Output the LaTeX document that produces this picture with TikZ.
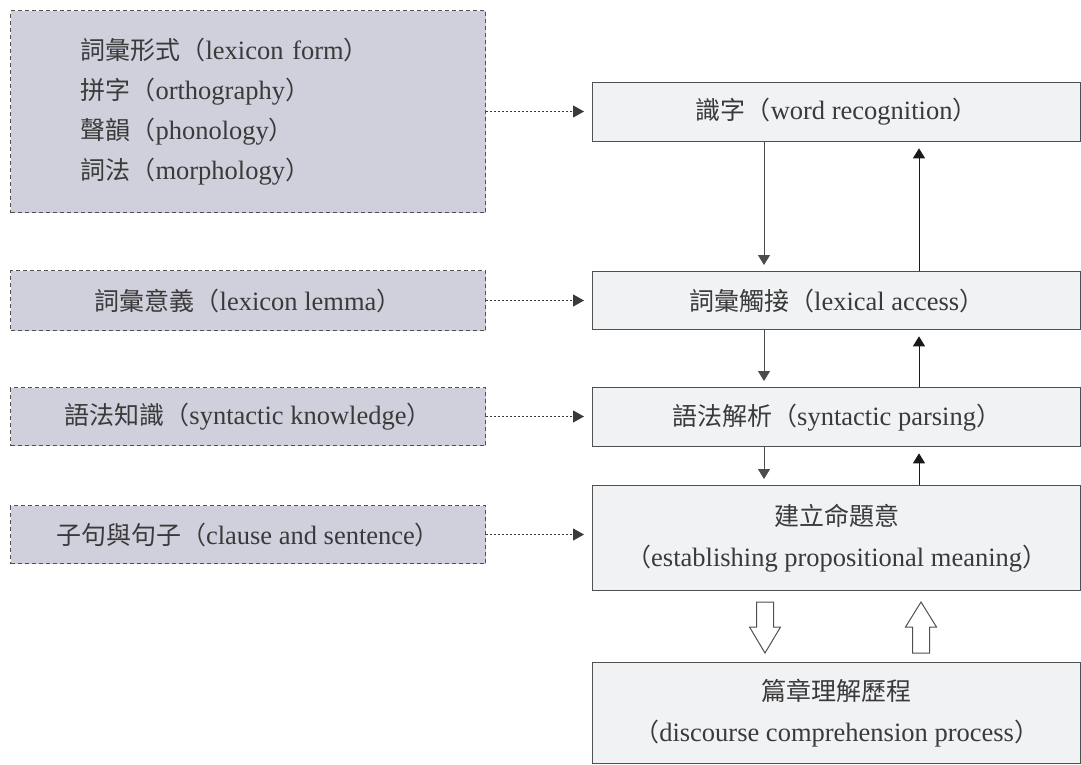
\documentclass[tikz,border=0pt]{standalone}
\usepackage{fontspec}
\setmainfont{Liberation Serif}
\newfontfamily\cjkfont{Noto Sans CJK TC}
\newcommand\zh[1]{{\cjkfont\fontsize{25}{40}\selectfont #1}}
\usetikzlibrary{arrows.meta}
\definecolor{txt}{HTML}{3A3A3A}
\definecolor{lfill}{HTML}{D0D0DC}
\definecolor{rfill}{HTML}{F1F2F4}
\definecolor{rline}{HTML}{505050}
\begin{document}
\begin{tikzpicture}[x=1pt,y=-1pt,
  every node/.style={font=\fontsize{26.5}{40}\selectfont, text=txt},
  lbox/.style={draw=rline, dash pattern=on 4pt off 3pt, fill=lfill, line width=1pt, anchor=north west, inner sep=0pt, minimum width=475pt, align=center},
  rbox/.style={draw=rline, fill=rfill, line width=1.3pt, anchor=north west, inner sep=0pt, minimum width=488pt, align=center, font=\fontsize{26.5}{41}\selectfont},
  dotarrow/.style={draw=txt, line width=1pt, dash pattern=on 2pt off 2pt, -{Triangle[length=11pt,width=12pt]}, shorten >=8pt},
  varrow/.style={line width=1pt, -{Triangle[length=10pt,width=12pt]}, shorten >=6pt},
  downarrow/.style={varrow, draw=black!70, fill=black!85},
  uparrow/.style={varrow, draw=black!90},
  blockarrow/.style={draw=rline, fill=white, line width=1pt}
]
\useasboundingbox[fill=white] (0,0) rectangle (1081,764);

% left boxes
\node[lbox, minimum height=202pt, align=left, text width=335pt, inner xsep=70pt] (l1) at (10,10)
  {\zh{詞彙形式（}lexicon form\zh{）}\\\zh{拼字（}orthography\zh{）}\\\zh{聲韻（}phonology\zh{）}\\\zh{詞法（}morphology\zh{）}};
\node[lbox, minimum height=60pt] (l2) at (10,270) {\zh{詞彙意義（}lexicon lemma\zh{）}};
\node[lbox, minimum height=58pt] (l3) at (10,387) {\zh{語法知識（}syntactic knowledge\zh{）}};
\node[lbox, minimum height=58pt] (l4) at (10,505) {\zh{子句與句子（}clause and sentence\zh{）}};

% right boxes
\node[rbox, minimum height=59pt] (r1) at (592,82) {\zh{識字（}word recognition\zh{）}};
\node[rbox, minimum height=58pt] (r2) at (592,271) {\zh{詞彙觸接（}lexical access\zh{）}};
\node[rbox, minimum height=59pt] (r3) at (592,387) {\zh{語法解析（}syntactic parsing\zh{）}};
\node[rbox, minimum height=105pt] (r4) at (592,485) {\zh{建立命題意}\\\zh{（}establishing propositional meaning\zh{）}};
\node[rbox, minimum height=101pt] (r5) at (592,662) {\zh{篇章理解歷程}\\\zh{（}discourse comprehension process\zh{）}};

% dotted arrows
\draw[dotarrow] (l1.east) -- (l1.east -| r1.west);
\draw[dotarrow] (l2.east) -- (l2.east -| r2.west);
\draw[dotarrow] (l3.east) -- (l3.east -| r3.west);
\draw[dotarrow] (l4.east) -- (l4.east -| r4.west);

% vertical arrows
\coordinate (xd) at (764,0);
\coordinate (xu) at (919,0);
\draw[downarrow] (r1.south -| xd) -- (r2.north -| xd);
\draw[uparrow] (r2.north -| xu) -- (r1.south -| xu);
\draw[downarrow] (r2.south -| xd) -- (r3.north -| xd);
\draw[uparrow] (r3.north -| xu) -- (r2.south -| xu);
\draw[downarrow] (r3.south -| xd) -- (r4.north -| xd);
\draw[uparrow] (r4.north -| xu) -- (r3.south -| xu);

% block arrows
\draw[blockarrow] (756.5,602) -- (773.5,602) -- (773.5,627) -- (780.5,627) -- (765,653) -- (749.5,627) -- (756.5,627) -- cycle;
\draw[blockarrow] (921,602) -- (936.5,627) -- (929.5,627) -- (929.5,653) -- (912.5,653) -- (912.5,627) -- (905.5,627) -- cycle;
\end{tikzpicture}
\end{document}
